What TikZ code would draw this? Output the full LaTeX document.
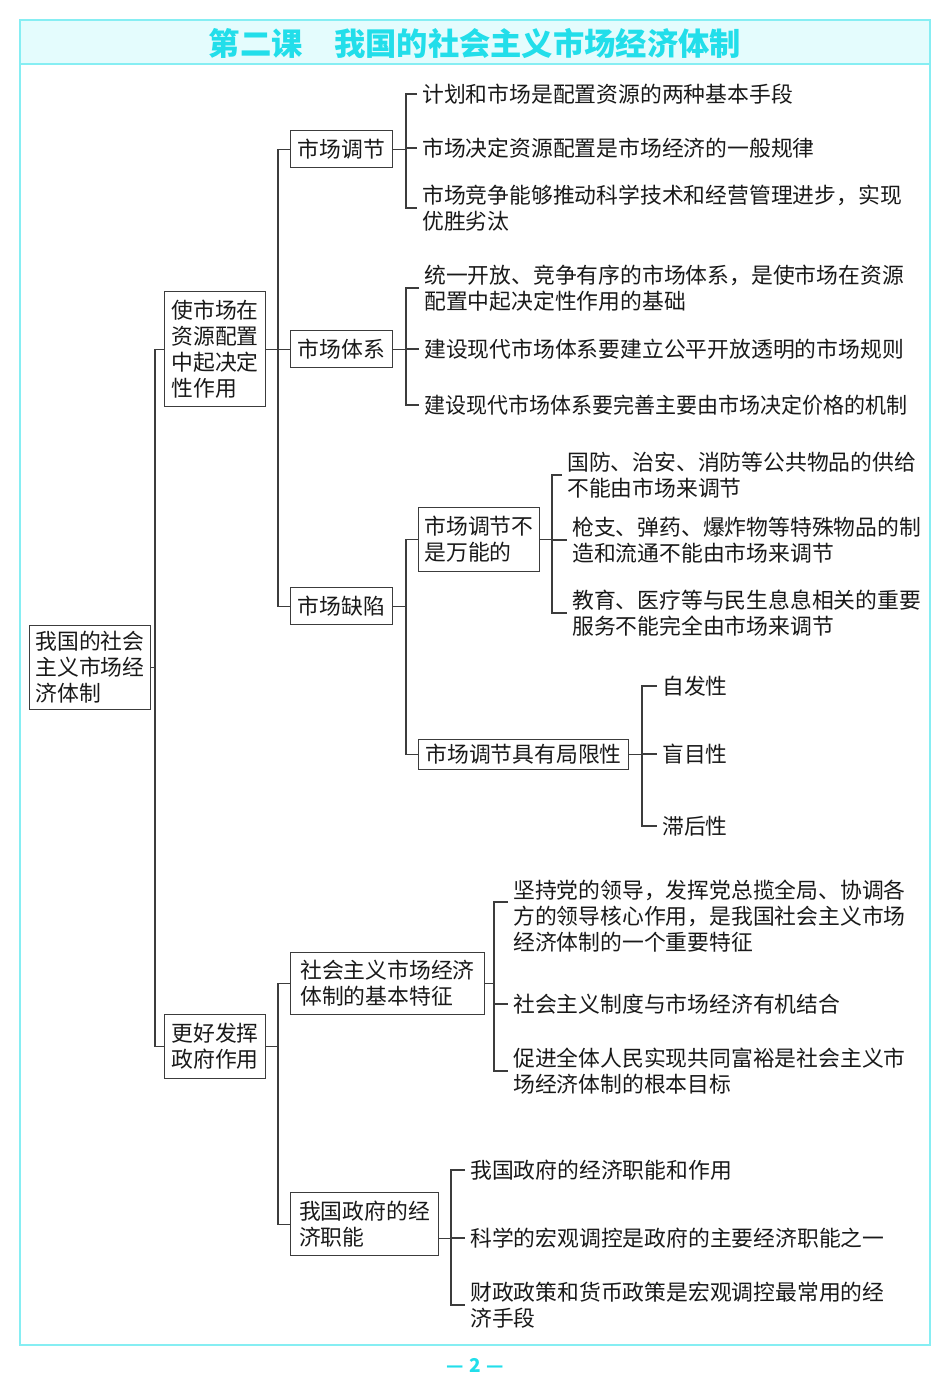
\documentclass[tikz,border=0pt]{standalone}
\usepackage{graphicx}
\usepackage{fontspec}
\IfFontExistsTF{FandolSong-Regular.otf}{\newfontfamily\song{FandolSong-Regular.otf}}{\newfontfamily\song{Noto Sans CJK SC}}
\newfontfamily\hei{Noto Sans CJK SC}
\definecolor{ttl}{HTML}{22DEEA}
\definecolor{frm}{HTML}{86EEF3}
\definecolor{band}{HTML}{E4FCFD}
\definecolor{ln}{HTML}{3C3C3C}
\tikzset{
 txt/.style={font=\song\fontsize{21.8pt}{26pt}\selectfont, text=black!90},
 box/.style={txt, draw=ln, line width=1.1pt, inner sep=0pt, align=left, anchor=north west},
 leaf/.style={txt, inner xsep=5pt, inner ysep=0pt, align=left, anchor=west},
 conn/.style={draw=ln, line width=1.1pt},
}
\begin{document}
\begin{tikzpicture}[x=1pt,y=-1pt]
\useasboundingbox (0,0) rectangle (950,1397);
% frame and header
\fill[band] (20,20) rectangle (930,64);
\draw[frm,line width=1.2pt] (20,64) -- (930,64);
\draw[frm,line width=1.5pt] (20,20) rectangle (930,1345);
\node[font=\hei\bfseries\fontsize{31.3pt}{34pt}\selectfont, text=ttl] (title) at (475,43) {第二课\hspace{1em}我国的社会主义市场经济体制};
\node[font=\hei\bfseries\fontsize{19pt}{21pt}\selectfont, text=ttl] (pg) at (475,1365) {—\hspace{0.3em}2\hspace{0.3em}—};
% boxes
\node[box, minimum width=121pt, minimum height=84pt] (root) at (29,625) {我国的社会\\主义市场经\\济体制};
\node[box, minimum width=101pt, minimum height=115pt] (m1) at (164,291) {使市场在\\资源配置\\中起决定\\性作用};
\node[box, minimum width=101pt, minimum height=64pt] (m2) at (164,1014) {更好发挥\\政府作用};
\node[box, minimum width=102pt, minimum height=37pt] (s1) at (290,130) {市场调节};
\node[box, minimum width=102pt, minimum height=37pt] (s2) at (290,330) {市场体系};
\node[box, minimum width=102pt, minimum height=37pt] (s3) at (290,587) {市场缺陷};
\node[box, minimum width=121pt, minimum height=64pt] (t1) at (418,507) {市场调节不\\是万能的};
\node[box, minimum width=210pt, minimum height=30pt] (t2) at (418,739) {市场调节具有局限性};
\node[box, minimum width=194pt, minimum height=62pt] (s4) at (290,952) {社会主义市场经济\\体制的基本特征};
\node[box, minimum width=148pt, minimum height=63pt] (s5) at (290,1192) {我国政府的经\\济职能};
% leaves
\node[leaf] (a1) at (417,94) {计划和市场是配置资源的两种基本手段};
\node[leaf] (a2) at (417,148) {市场决定资源配置是市场经济的一般规律};
\node[leaf] (a3) at (417,208) {市场竞争能够推动科学技术和经营管理进步，实现\\优胜劣汰};
\node[leaf] (b1) at (419,288) {统一开放、竞争有序的市场体系，是使市场在资源\\配置中起决定性作用的基础};
\node[leaf] (b2) at (419,349) {建设现代市场体系要建立公平开放透明的市场规则};
\node[leaf] (b3) at (419,405) {\scalebox{0.963}[1]{建设现代市场体系要完善主要由市场决定价格的机制}};
\node[leaf] (c1) at (562,475) {国防、治安、消防等公共物品的供给\\不能由市场来调节};
\node[leaf] (c2) at (567,540) {枪支、弹药、爆炸物等特殊物品的制\\造和流通不能由市场来调节};
\node[leaf] (c3) at (567,613) {教育、医疗等与民生息息相关的重要\\服务不能完全由市场来调节};
\node[leaf] (d1) at (657,686) {自发性};
\node[leaf] (d2) at (657,754) {盲目性};
\node[leaf] (d3) at (657,826) {滞后性};
\node[leaf] (e1) at (508,916) {坚持党的领导，发挥党总揽全局、协调各\\方的领导核心作用，是我国社会主义市场\\经济体制的一个重要特征};
\node[leaf] (e2) at (508,1004) {社会主义制度与市场经济有机结合};
\node[leaf] (e3) at (508,1071) {促进全体人民实现共同富裕是社会主义市\\场经济体制的根本目标};
\node[leaf] (f1) at (465,1170) {我国政府的经济职能和作用};
\node[leaf] (f2) at (465,1238) {科学的宏观调控是政府的主要经济职能之一};
\node[leaf] (f3) at (465,1305) {财政政策和货币政策是宏观调控最常用的经\\济手段};
% vertical positions
\coordinate (v0) at (155,0);
\coordinate (v1) at (278,0);
\coordinate (vA) at (406,0);
\coordinate (vC) at (552,0);
\coordinate (vD) at (642,0);
\coordinate (vE) at (494,0);
\coordinate (vF) at (451,0);
\coordinate (e1a) at ([yshift=14pt]e1.west);
\coordinate (s5a) at ([yshift=-14pt]s5.east);
% connectors
\draw[conn] (root.east) -- (root.east -| v0);
\draw[conn] (m1.west) -- (m1.west -| v0) -- (m2.west -| v0) -- (m2.west);
\draw[conn] (m1.east) -- (m1.east -| v1);
\draw[conn] (s1.west) -- (s1.west -| v1) -- (s3.west -| v1) -- (s3.west);
\draw[conn] (s2.west -| v1) -- (s2.west);
\draw[conn] (m2.east) -- (m2.east -| v1);
\draw[conn] (s4.west) -- (s4.west -| v1) -- (s5.west -| v1) -- (s5.west);
\draw[conn] (s1.east) -- (s1.east -| vA);
\draw[conn] (a1.west) -- (a1.west -| vA) -- (a3.west -| vA) -- (a3.west);
\draw[conn] (a2.west -| vA) -- (a2.west);
\draw[conn] (s2.east) -- (s2.east -| vA);
\draw[conn] (b1.west) -- (b1.west -| vA) -- (b3.west -| vA) -- (b3.west);
\draw[conn] (b2.west -| vA) -- (b2.west);
\draw[conn] (s3.east) -- (s3.east -| vA);
\draw[conn] (t1.west) -- (t1.west -| vA) -- (t2.west -| vA) -- (t2.west);
\draw[conn] (t1.east) -- (t1.east -| vC);
\draw[conn] (c1.west) -- (c1.west -| vC) -- (c3.west -| vC) -- (c3.west);
\draw[conn] (c2.west -| vC) -- (c2.west);
\draw[conn] (t2.east) -- (t2.east -| vD);
\draw[conn] (d1.west) -- (d1.west -| vD) -- (d3.west -| vD) -- (d3.west);
\draw[conn] (d2.west -| vD) -- (d2.west);
\draw[conn] (s4.east) -- (s4.east -| vE);
\draw[conn] (e1a) -- (e1a -| vE) -- (e3.west -| vE) -- (e3.west);
\draw[conn] (e2.west -| vE) -- (e2.west);
\draw[conn] (s5a) -- (s5a -| vF);
\draw[conn] (f1.west) -- (f1.west -| vF) -- (f3.west -| vF) -- (f3.west);
\draw[conn] (f2.west -| vF) -- (f2.west);
\end{tikzpicture}
\end{document}
